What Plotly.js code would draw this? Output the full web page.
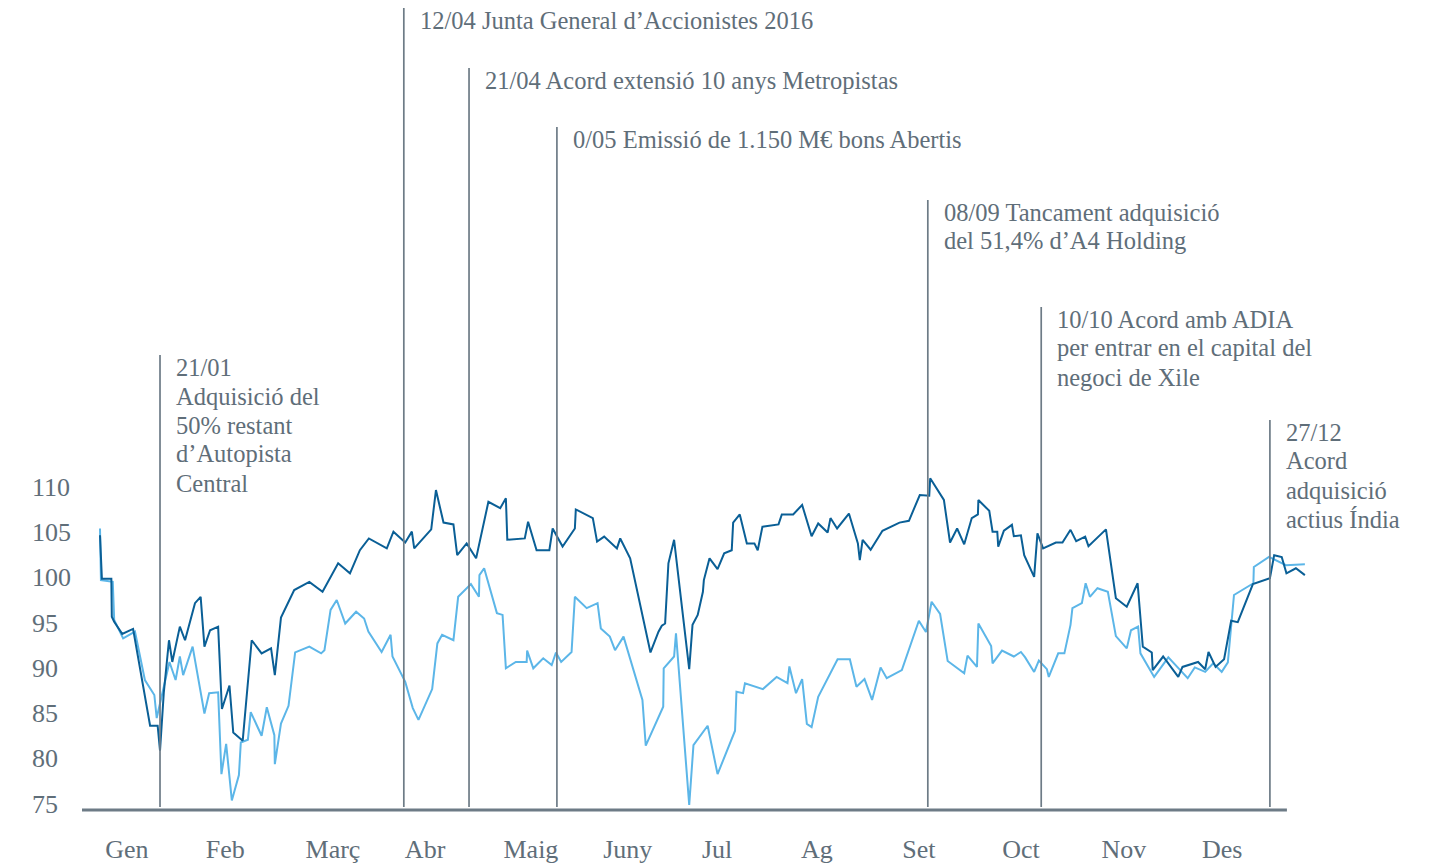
<!DOCTYPE html>
<html>
<head>
<meta charset="utf-8">
<script src="https://cdn.plot.ly/plotly-3.0.1.min.js"></script>
<style>
html,body{margin:0;padding:0;background:#ffffff;}
#chart{width:1438px;height:868px;}
</style>
</head>
<body>
<div id="chart"></div>
<script>
// ---- data (x = trading-day index, y = index value) ----
const darkDays = [0,0.4,2.4,2.5,3.0,4.7,7.0,9.5,10.6,12.2,12.7,13.5,14.6,15.3,16.9,18.0,20.1,21.3,22.1,23.3,25.0,25.8,27.4,28.2,30.2,32.1,34.2,36.2,37.0,38.3,41.1,44.3,47.1,50.4,52.9,55.0,56.9,60.7,62.1,64.6,66.0,66.5,70.1,70.2,71.1,72.7,74.8,75.6,77.6,79.6,81.0,82.2,84.7,85.9,86.2,89.9,90.6,92.4,95.1,95.8,97.9,100.5,100.7,104.3,105.2,106.7,109.4,110.1,112.2,116.5,118.2,118.9,119.6,120.3,121.5,124.7,125.4,126.5,127.6,127.8,129.0,130.7,132.1,133.7,134.0,135.4,136.9,138.5,139.2,140.2,143.6,144.3,146.7,148.6,150.6,152.0,154.0,154.6,156.0,158.5,160.4,160.8,161.4,163.1,165.6,169.2,171.2,173.5,175.5,175.7,178.6,179.9,181.4,182.9,184.5,185.8,185.9,188.2,188.9,189.9,190.1,191.3,193.0,193.4,194.9,195.6,197.7,198.4,199.6,202.3,203.7,205.4,206.6,208.5,209.2,212.9,215.0,217.3,219.6,220.7,222.6,222.8,225.0,228.2,229.1,232.4,233.9,234.6,236.1,237.9,239.4,240.8,244.0,247.6,248.5,250.1,251.1,253.1,255.0];
const darkValues = [104.7,99.9,99.9,95.7,95.15,93.8,94.35,87.2,83.65,83.65,80.9,87.3,93.1,90.7,94.6,93.1,97.2,97.9,92.4,94.2,94.6,85.5,88.1,82.9,82.0,93.1,91.65,92.2,89.25,95.6,98.65,99.55,98.45,101.6,100.5,103.05,104.35,103.25,105.1,103.9,105.1,103.25,105.35,105.8,109.7,106.1,105.9,102.5,103.8,102.15,105.65,108.4,107.7,108.8,104.2,104.35,106.2,103.05,103.05,105.45,103.45,105.45,107.55,106.6,104.0,104.55,103.25,104.35,102.15,91.75,94.05,94.7,94.95,101.6,104.2,89.9,94.8,95.9,98.45,99.75,102.15,100.95,102.7,103.05,106.1,107.0,103.8,103.8,103.05,105.65,105.9,107.0,107.0,108.05,104.6,106.0,105.0,106.6,105.45,107.1,103.8,101.95,104.2,103.1,105.2,106.1,106.3,109.15,109.07,111.0,108.6,103.9,105.45,103.7,106.6,107.0,108.6,107.4,105.1,105.1,103.45,105.2,105.85,104.6,104.7,102.5,100.1,104.9,103.25,103.9,103.9,105.3,104.05,104.55,103.5,105.35,97.75,96.8,99.4,92.4,91.75,89.8,91.3,89.05,90.15,90.7,89.9,91.8,90.15,91.0,95.25,95.1,99.3,99.95,102.5,102.3,100.5,101.05,100.3];

const lightDays = [0,0.2,2.7,3.0,4.9,7.4,9.5,11.5,12.0,13.8,14.7,16.0,16.9,17.6,19.6,22.1,23.1,25.0,25.7,26.7,27.9,29.4,29.8,31.3,31.9,34.2,35.3,36.9,37.0,38.3,39.9,41.3,44.3,46.8,47.5,48.8,50.1,51.9,54.2,55.9,56.8,59.6,61.5,61.9,64.6,66.2,67.4,70.3,71.4,72.4,74.8,75.8,78.5,80.2,80.3,81.3,84.0,85.2,85.9,88.0,90.3,90.4,91.7,93.8,95.6,96.5,97.6,99.8,100.5,103.0,105.3,106.0,107.9,109.0,110.8,114.8,115.5,119.2,119.3,121.5,121.9,124.7,125.6,128.6,130.7,134.4,134.7,136.1,136.5,140.3,143.2,145.5,145.9,147.3,148.6,149.6,150.6,152.0,156.1,158.7,160.1,161.8,163.4,165.2,166.5,169.7,173.3,174.8,176.0,177.8,179.4,182.9,183.6,185.6,185.9,188.6,188.9,190.9,193.4,194.9,195.8,197.7,198.7,200.4,200.8,202.8,204.1,205.4,205.8,207.8,208.6,209.5,211.1,213.3,215.0,217.3,218.2,219.7,220.2,223.1,226.1,230.2,231.7,233.9,235.6,237.4,238.7,240.0,244.1,244.2,247.4,251.0,255.0];
const lightValues = [105.45,99.75,99.55,95.35,93.3,94.05,88.7,87.05,84.5,88.7,90.7,88.7,91.3,89.25,92.4,85.0,87.25,87.35,78.3,81.65,75.4,78.2,81.8,82.1,85.15,82.55,85.7,82.6,79.4,83.9,85.85,91.75,92.4,91.65,92.0,96.45,97.55,94.95,96.25,95.5,94.05,91.8,93.7,91.3,88.5,85.6,84.3,87.7,92.75,93.7,93.1,97.9,99.3,97.9,100.3,101.05,96.1,95.9,90.0,90.7,90.7,91.95,90.0,91.1,90.35,91.75,90.7,91.8,97.9,96.65,97.2,94.4,93.5,92.0,93.5,86.5,81.45,85.75,90.0,91.3,93.85,74.9,81.5,83.65,78.3,83.1,87.4,87.25,88.35,87.7,89.05,88.35,90.2,87.25,88.8,83.85,83.5,86.85,91.0,91.0,87.95,88.8,86.5,90.1,88.9,89.8,95.25,94.0,97.35,96.0,90.8,89.45,91.4,90.15,94.95,92.45,90.55,91.95,91.3,91.8,91.2,89.6,90.85,89.9,89.05,91.65,91.65,94.8,96.65,97.2,99.4,97.9,98.85,98.45,93.55,92.2,94.2,94.6,91.65,89.05,91.2,88.9,90.1,89.6,90.55,89.6,90.65,98.1,99.4,101.2,102.3,101.4,101.5];

const monthLabels = ['Gen','Feb','Març','Abr','Maig','Juny','Jul','Ag','Set','Oct','Nov','Des'];
const monthPositions = [5.7,26.5,49.3,68.8,91.2,111.7,130.6,151.7,173.3,194.9,216.7,237.5];
const yTickValues = [75,80,85,90,95,100,105,110];

const eventDays = [12.7,64.3,78.1,96.7,175.2,199.2,247.6];
const eventTexts = [
  ['21/01','Adquisició del','50% restant','d’Autopista','Central'],
  ['12/04 Junta General d’Accionistes 2016'],
  ['21/04 Acord extensió 10 anys Metropistas'],
  ['0/05 Emissió de 1.150 M€ bons Abertis'],
  ['08/09 Tancament adquisició','del 51,4% d’A4 Holding'],
  ['10/10 Acord amb ADIA','per entrar en el capital del','negoci de Xile'],
  ['27/12','Acord','adquisició','actius Índia']
];

// ---- layout constants ----
const PLOT_H = 810;            // plot area height in px (top margin 0)
const eventTopPx = [355,8,68,127,200,307,420];
const LINE_GAP = 29;
const TEXT_COLOR = '#5f6e79';
const RULE_COLOR = '#6d7b86';
const FONT = 'Liberation Serif, Times New Roman, serif';
const paperY = py => (PLOT_H - py) / PLOT_H;

const traces = [
  {x: lightDays, y: lightValues, type: 'scatter', mode: 'lines',
   line: {color: '#5cb6e8', width: 2}, hoverinfo: 'skip'},
  {x: darkDays, y: darkValues, type: 'scatter', mode: 'lines',
   line: {color: '#0a5f96', width: 2}, hoverinfo: 'skip'}
];

const shapes = [
  {type: 'line', xref: 'x', yref: 'paper', x0: -3.81, x1: 251.2, y0: 0, y1: 0,
   line: {color: RULE_COLOR, width: 3}}
];
const annotations = [];

eventDays.forEach((d, i) => {
  shapes.push({type: 'line', xref: 'x', yref: 'paper', x0: d, x1: d,
    y0: paperY(807), y1: paperY(eventTopPx[i]), line: {color: RULE_COLOR, width: 1.7}});
  eventTexts[i].forEach((t, j) => {
    annotations.push({xref: 'x', yref: 'paper', x: d, xshift: 14,
      y: paperY(eventTopPx[i] + 12 + j * LINE_GAP), xanchor: 'left', yanchor: 'middle',
      text: t, showarrow: false, font: {family: FONT, size: 24.5, color: TEXT_COLOR}});
  });
});

yTickValues.forEach(v => {
  annotations.push({xref: 'paper', yref: 'y', x: -0.042, y: v, xanchor: 'left', yanchor: 'middle',
    text: String(v), showarrow: false, font: {family: FONT, size: 26, color: TEXT_COLOR}});
});

const layout = {
  width: 1438, height: 868,
  margin: {l: 82, r: 118, t: 0, b: 58},
  paper_bgcolor: '#ffffff', plot_bgcolor: '#ffffff',
  showlegend: false,
  font: {family: FONT, color: TEXT_COLOR},
  xaxis: {range: [-3.81, 258.2], showgrid: false, zeroline: false, showline: false,
    tickmode: 'array', tickvals: monthPositions, ticktext: monthLabels,
    ticks: 'outside', ticklen: 16, tickcolor: 'rgba(0,0,0,0)',
    tickfont: {family: FONT, size: 26, color: TEXT_COLOR}},
  yaxis: {range: [74.34, 163.85], showgrid: false, zeroline: false, showline: false,
    showticklabels: false, ticks: ''},
  shapes: shapes,
  annotations: annotations
};

Plotly.newPlot('chart', traces, layout, {staticPlot: true, displayModeBar: false});
</script>
</body>
</html>
